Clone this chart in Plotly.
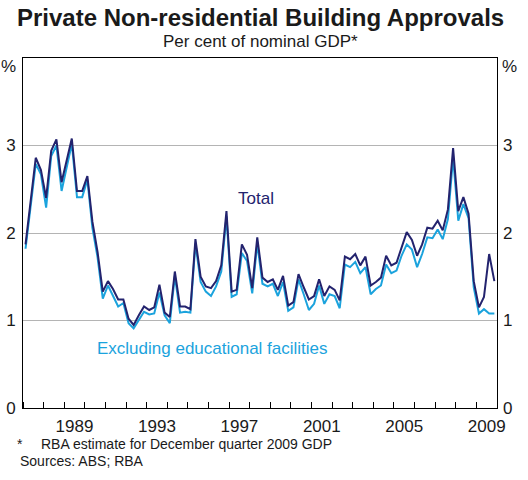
import plotly.graph_objects as go

# Quarterly data, 1987 Q1 to 2009 Q4 (per cent of nominal GDP)
years = list(range(1987, 2010))
quarter_months = [2, 5, 8, 11]
dates = [f"{y}-{m:02d}-15" for y in years for m in quarter_months]

total = [1.87, 2.36, 2.86, 2.72, 2.40, 2.94, 3.07, 2.58, 2.83, 3.08, 2.48, 2.48, 2.65,
         2.13, 1.78, 1.33,
         1.45, 1.36, 1.24, 1.24, 1.02, 0.95, 1.06, 1.16, 1.12, 1.15,
         1.41, 1.09, 1.04, 1.56, 1.16, 1.16, 1.13, 1.93, 1.50, 1.39,
         1.37, 1.45, 1.63, 2.25, 1.33, 1.35, 1.87, 1.75, 1.37, 1.95,
         1.49, 1.44,
         1.47, 1.35, 1.51, 1.17, 1.21, 1.53, 1.38, 1.24, 1.28, 1.47,
         1.28, 1.39, 1.35, 1.23, 1.73, 1.70, 1.76, 1.63, 1.73, 1.40,
         1.44, 1.49, 1.74, 1.63, 1.66, 1.83, 2.01, 1.92, 1.74, 1.87,
         2.06, 2.05, 2.14, 2.03,
         2.27, 2.97, 2.25, 2.41, 2.22, 1.45, 1.15, 1.27, 1.76, 1.45]

excl_edu = [1.82, 2.30, 2.79, 2.67, 2.29, 2.88, 3.00, 2.48, 2.75, 3.02, 2.41, 2.41, 2.61,
            2.06, 1.72, 1.25,
            1.40, 1.29, 1.16, 1.20, 0.97, 0.91, 1.01, 1.10, 1.07, 1.08,
            1.32, 1.06, 0.97, 1.51, 1.09, 1.10, 1.09, 1.88, 1.44, 1.33,
            1.28, 1.39, 1.56, 2.19, 1.27, 1.30, 1.77, 1.68, 1.31, 1.88,
            1.42, 1.39,
            1.42, 1.28, 1.44, 1.11, 1.15, 1.47, 1.30, 1.12, 1.19, 1.40,
            1.19, 1.30, 1.28, 1.14, 1.64, 1.61, 1.67, 1.54, 1.61, 1.30,
            1.36, 1.40, 1.64, 1.54, 1.57, 1.74, 1.87, 1.81, 1.61, 1.76,
            1.95, 1.94, 2.04, 1.93,
            2.16, 2.86, 2.14, 2.33, 2.17, 1.38, 1.08, 1.13, 1.08, 1.08]

x_label_years = list(range(1989, 2010, 4))
y_ticks = [0, 1, 2, 3]

DARK = "#23236e"
LIGHT = "#1ba3dd"
TXT = "#1a1a1a"
FONT = "Arial, Liberation Sans, sans-serif"

fig = go.Figure()
fig.add_trace(go.Scatter(x=dates, y=excl_edu, mode="lines",
                         line=dict(color=LIGHT, width=2), yaxis="y",
                         showlegend=False, hoverinfo="skip"))
fig.add_trace(go.Scatter(x=dates, y=total, mode="lines",
                         line=dict(color=DARK, width=2), yaxis="y2",
                         showlegend=False, hoverinfo="skip"))

fig.update_layout(
    width=528, height=480,
    margin=dict(l=23, r=31, t=58, b=72, autoexpand=False),
    paper_bgcolor="white", plot_bgcolor="white",
    font=dict(family=FONT, color=TXT, size=17),
    xaxis=dict(
        type="date", range=["1987-01-01", "2010-01-01"],
        tickvals=[f"{y}-07-02" for y in x_label_years],
        ticktext=[str(y) for y in x_label_years],
        ticks="", showgrid=False, zeroline=False, automargin=False,
        showline=True, linecolor="black", linewidth=1, mirror=True,
        ticklabelstandoff=3,
        tickfont=dict(size=17, family=FONT, color=TXT),
        minor=dict(ticks="inside", ticklen=6, tickcolor="black", tickwidth=1,
                   dtick="M12", tick0="1987-01-01", showgrid=False),
    ),
    yaxis=dict(
        range=[0, 4], tickvals=y_ticks, ticktext=[str(v) for v in y_ticks],
        ticks="", showgrid=True, gridcolor="#b4b4b4", gridwidth=1,
        zeroline=False, showline=True, linecolor="black", linewidth=1, mirror=True,
        ticklabelstandoff=3, automargin=False,
        tickfont=dict(size=17, family=FONT, color=TXT),
    ),
    yaxis2=dict(
        overlaying="y", side="right", range=[0, 4], tickvals=y_ticks,
        ticktext=[str(v) for v in y_ticks],
        ticks="", showgrid=False, zeroline=False, showline=False,
        ticklabelstandoff=5, automargin=False,
        tickfont=dict(size=17, family=FONT, color=TXT),
    ),
)

annotations = [
    dict(text="<b>Private Non-residential Building Approvals</b>", x=0.5, y=1.117,
         xref="paper", yref="paper", xanchor="center", yanchor="middle",
         showarrow=False, font=dict(size=24, family=FONT, color=TXT)),
    dict(text="Per cent of nominal GDP*", x=0.5, y=1.046,
         xref="paper", yref="paper", xanchor="center", yanchor="middle",
         showarrow=False, font=dict(size=17, family=FONT, color=TXT)),
    dict(text="%", x=-0.030, y=0.975, xref="paper", yref="paper",
         xanchor="center", yanchor="middle", showarrow=False,
         font=dict(size=17, family=FONT, color=TXT)),
    dict(text="%", x=1.027, y=0.975, xref="paper", yref="paper",
         xanchor="center", yanchor="middle", showarrow=False,
         font=dict(size=17, family=FONT, color=TXT)),
    dict(text="Total", x=0.4916, y=0.60, xref="paper", yref="paper",
         xanchor="center", yanchor="middle", showarrow=False,
         font=dict(size=17, family=FONT, color=DARK)),
    dict(text="Excluding educational facilities", x=0.399, y=0.17,
         xref="paper", yref="paper", xanchor="center", yanchor="middle",
         showarrow=False, font=dict(size=17, family=FONT, color=LIGHT)),
    dict(text="*", x=-0.006, y=-0.104, xref="paper", yref="paper",
         xanchor="center", yanchor="middle", showarrow=False,
         font=dict(size=14, family=FONT, color=TXT)),
    dict(text="RBA estimate for December quarter 2009 GDP", x=0.034, y=-0.104,
         xref="paper", yref="paper", xanchor="left", yanchor="middle",
         showarrow=False, font=dict(size=14, family=FONT, color=TXT)),
    dict(text="Sources: ABS; RBA", x=-0.010, y=-0.152,
         xref="paper", yref="paper", xanchor="left", yanchor="middle",
         showarrow=False, font=dict(size=14, family=FONT, color=TXT)),
]
fig.update_layout(annotations=annotations)

fig.write_html("out.html")
